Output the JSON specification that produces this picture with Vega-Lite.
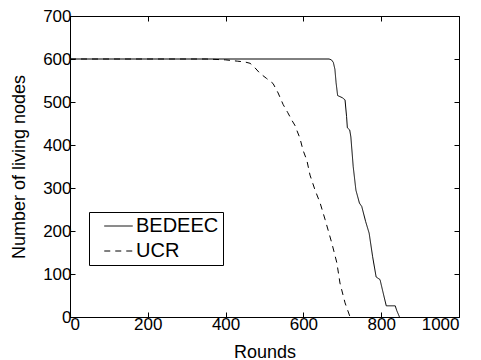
{
  "$schema": "https://vega.github.io/schema/vega-lite/v6.json",
  "width": 389,
  "height": 301,
  "autosize": "none",
  "padding": {"left": 70, "top": 16, "right": 22, "bottom": 43},
  "background": "white",
  "data": {
    "values": [
      {"series": "BEDEEC", "round": 0, "nodes": 600},
      {"series": "BEDEEC", "round": 666, "nodes": 600},
      {"series": "BEDEEC", "round": 672, "nodes": 598},
      {"series": "BEDEEC", "round": 677, "nodes": 592},
      {"series": "BEDEEC", "round": 681, "nodes": 576},
      {"series": "BEDEEC", "round": 684, "nodes": 545},
      {"series": "BEDEEC", "round": 688, "nodes": 515},
      {"series": "BEDEEC", "round": 700, "nodes": 510},
      {"series": "BEDEEC", "round": 707, "nodes": 505},
      {"series": "BEDEEC", "round": 711, "nodes": 466},
      {"series": "BEDEEC", "round": 713, "nodes": 440},
      {"series": "BEDEEC", "round": 719, "nodes": 435},
      {"series": "BEDEEC", "round": 722, "nodes": 419},
      {"series": "BEDEEC", "round": 728, "nodes": 350},
      {"series": "BEDEEC", "round": 735, "nodes": 295},
      {"series": "BEDEEC", "round": 744, "nodes": 265},
      {"series": "BEDEEC", "round": 750, "nodes": 257},
      {"series": "BEDEEC", "round": 760, "nodes": 222},
      {"series": "BEDEEC", "round": 769, "nodes": 195},
      {"series": "BEDEEC", "round": 778, "nodes": 140},
      {"series": "BEDEEC", "round": 787, "nodes": 93},
      {"series": "BEDEEC", "round": 797, "nodes": 87},
      {"series": "BEDEEC", "round": 804, "nodes": 60},
      {"series": "BEDEEC", "round": 813, "nodes": 26},
      {"series": "BEDEEC", "round": 836, "nodes": 26},
      {"series": "BEDEEC", "round": 840, "nodes": 15},
      {"series": "BEDEEC", "round": 847, "nodes": 0},
      {"series": "UCR", "round": 0, "nodes": 600},
      {"series": "UCR", "round": 350, "nodes": 600},
      {"series": "UCR", "round": 400, "nodes": 598},
      {"series": "UCR", "round": 430, "nodes": 595},
      {"series": "UCR", "round": 450, "nodes": 593},
      {"series": "UCR", "round": 463, "nodes": 590},
      {"series": "UCR", "round": 475, "nodes": 580},
      {"series": "UCR", "round": 488, "nodes": 567},
      {"series": "UCR", "round": 505, "nodes": 555},
      {"series": "UCR", "round": 522, "nodes": 543},
      {"series": "UCR", "round": 535, "nodes": 521},
      {"series": "UCR", "round": 548, "nodes": 494},
      {"series": "UCR", "round": 560, "nodes": 475},
      {"series": "UCR", "round": 570, "nodes": 458},
      {"series": "UCR", "round": 578, "nodes": 446},
      {"series": "UCR", "round": 591, "nodes": 416},
      {"series": "UCR", "round": 599, "nodes": 388},
      {"series": "UCR", "round": 609, "nodes": 364},
      {"series": "UCR", "round": 617, "nodes": 330},
      {"series": "UCR", "round": 630, "nodes": 295},
      {"series": "UCR", "round": 643, "nodes": 265},
      {"series": "UCR", "round": 656, "nodes": 226},
      {"series": "UCR", "round": 673, "nodes": 172},
      {"series": "UCR", "round": 686, "nodes": 126},
      {"series": "UCR", "round": 694, "nodes": 79},
      {"series": "UCR", "round": 707, "nodes": 33},
      {"series": "UCR", "round": 720, "nodes": 0}
    ]
  },
  "layer": [
    {
      "mark": {"type": "line", "color": "black", "strokeWidth": 1, "clip": true},
      "encoding": {
        "x": {"field": "round", "type": "quantitative", "scale": {"domain": [0, 1000], "nice": false, "zero": false},
              "axis": {"title": "Rounds", "values": [0, 200, 400, 600, 800, 1000], "format": "d", "orient": "bottom"}},
        "y": {"field": "nodes", "type": "quantitative", "scale": {"domain": [0, 700], "nice": false},
              "axis": {"title": "Number of living nodes", "values": [0, 100, 200, 300, 400, 500, 600, 700], "format": "d", "orient": "left"}},
        "strokeDash": {"field": "series", "type": "nominal",
          "scale": {"domain": ["BEDEEC", "UCR"], "range": [[1, 0], [6, 5]]},
          "legend": {"title": null}},
        "detail": {"field": "series"}
      }
    },
    {
      "mark": {"type": "point", "opacity": 0},
      "encoding": {
        "x": {"field": "round", "type": "quantitative",
              "axis": {"orient": "top", "title": null, "labels": false, "domain": false, "values": [0, 200, 400, 600, 800, 1000]}},
        "y": {"field": "nodes", "type": "quantitative",
              "axis": {"orient": "right", "title": null, "labels": false, "domain": false, "values": [0, 100, 200, 300, 400, 500, 600, 700]}}
      }
    }
  ],
  "resolve": {"axis": {"x": "independent", "y": "independent"}},
  "config": {
    "view": {"stroke": "black", "strokeWidth": 1},
    "axis": {
      "grid": false,
      "domainColor": "black",
      "domainWidth": 1,
      "tickColor": "black",
      "tickSize": -5,
      "labelFont": "Liberation Sans",
      "labelFontSize": 17,
      "labelColor": "black",
      "labelPadding": 4,
      "titleFont": "Liberation Sans",
      "titleFontSize": 18,
      "titleFontWeight": "normal",
      "titleColor": "black"
    },
    "axisBottom": {"titlePadding": 11, "labelPadding": 4},
    "axisLeft": {"titlePadding": 14},
    "legend": {
      "orient": "none",
      "legendX": 19,
      "legendY": 196,
      "fillColor": "white",
      "strokeColor": "black",
      "padding": 4,
      "symbolType": "M0.25,0L5.95,0",
      "symbolSize": 100,
      "symbolStrokeColor": "black",
      "symbolStrokeWidth": 1,
      "labelFont": "Liberation Sans",
      "labelFontSize": 20,
      "labelColor": "black",
      "labelOffset": 23,
      "rowPadding": 5
    }
  }
}
